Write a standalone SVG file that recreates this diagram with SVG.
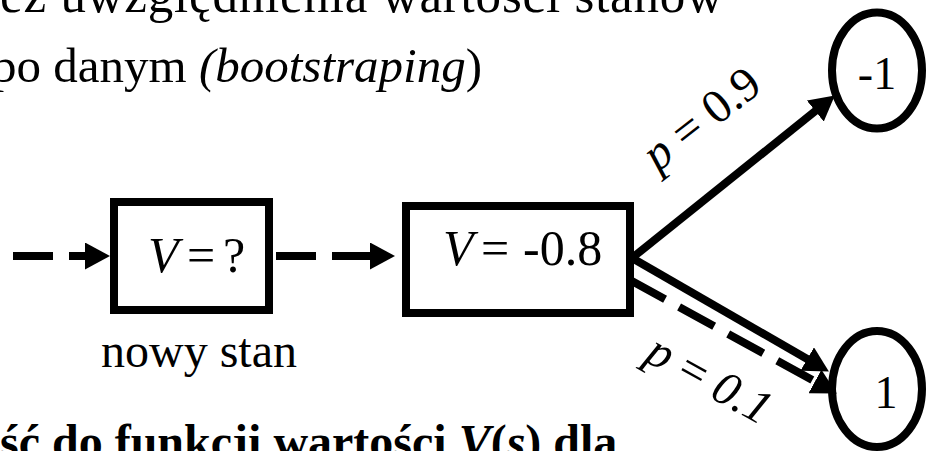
<svg xmlns="http://www.w3.org/2000/svg" width="929" height="451" viewBox="0 0 929 451">
<style>
text { font-family: "Liberation Serif", "Times New Roman", serif; fill: #000; font-size: 48px; }
.it { font-style: italic; }
.bd { font-weight: bold; }
.eq { font-size: 50px; }
.box { fill: #fff; stroke: #000; stroke-width: 8; }
.conn { fill: none; stroke: #000; stroke-width: 8; marker-end: url(#ah); }
.dash { stroke-dasharray: 40 16; }
</style>
<defs>
<marker id="ah" markerUnits="userSpaceOnUse" markerWidth="25" markerHeight="27" viewBox="0 0 25 27" refX="1" refY="13.5" orient="auto">
<path d="M0,0 L25,13.5 L0,27 z" fill="#000"/>
</marker>
</defs>
<rect width="929" height="451" fill="#fff"/>
<g id="heading">
<text x="0" y="12" style="font-size:51px" textLength="723" lengthAdjust="spacing">ez uwzględnienia wartości stanów</text>
<text x="-8" y="82" style="font-size:49px">po danym <tspan class="it">(bootstraping</tspan>)</text>
<text class="bd" x="0" y="458">ść do funkcji wartości <tspan class="it">V</tspan>(<tspan class="it">s</tspan>) dla</text>
</g>
<g id="node-new">
<rect class="box" x="114" y="202" width="155" height="108"/>
<text class="eq" y="272"><tspan class="it" x="148">V</tspan><tspan x="187">=</tspan><tspan x="223">?</tspan></text>
<text x="101" y="367">nowy stan</text>
</g>
<g id="node-current">
<rect class="box" x="406" y="206" width="224" height="107"/>
<text class="eq" y="265"><tspan class="it" x="443">V</tspan><tspan x="481">=</tspan><tspan x="523">-0.8</tspan></text>
</g>
<g id="node-minus1">
<ellipse class="box" cx="877" cy="70.5" rx="45" ry="58"/>
<text x="877" y="89" text-anchor="middle" style="font-size:46px">-1</text>
</g>
<g id="node-plus1">
<ellipse class="box" cx="877" cy="389" rx="45" ry="58"/>
<text x="886" y="408" text-anchor="middle" style="font-size:46px">1</text>
</g>
<g id="connectors">
<line class="conn dash" x1="13" y1="256" x2="86" y2="256"/>
<line class="conn dash" x1="276" y1="256" x2="371" y2="256"/>
<line class="conn" x1="632" y1="258" x2="816.1" y2="110.4"/>
<line class="conn" x1="632" y1="258" x2="808.1" y2="359.5"/>
<line class="conn dash" x1="630" y1="280" x2="815.8" y2="382"/>
<text transform="translate(711,131) rotate(-38)" text-anchor="middle"><tspan class="it">p</tspan> = 0.9</text>
<text transform="translate(702,393) rotate(29)" text-anchor="middle"><tspan class="it">p</tspan> = <tspan class="it">0.1</tspan></text>
</g>
</svg>
